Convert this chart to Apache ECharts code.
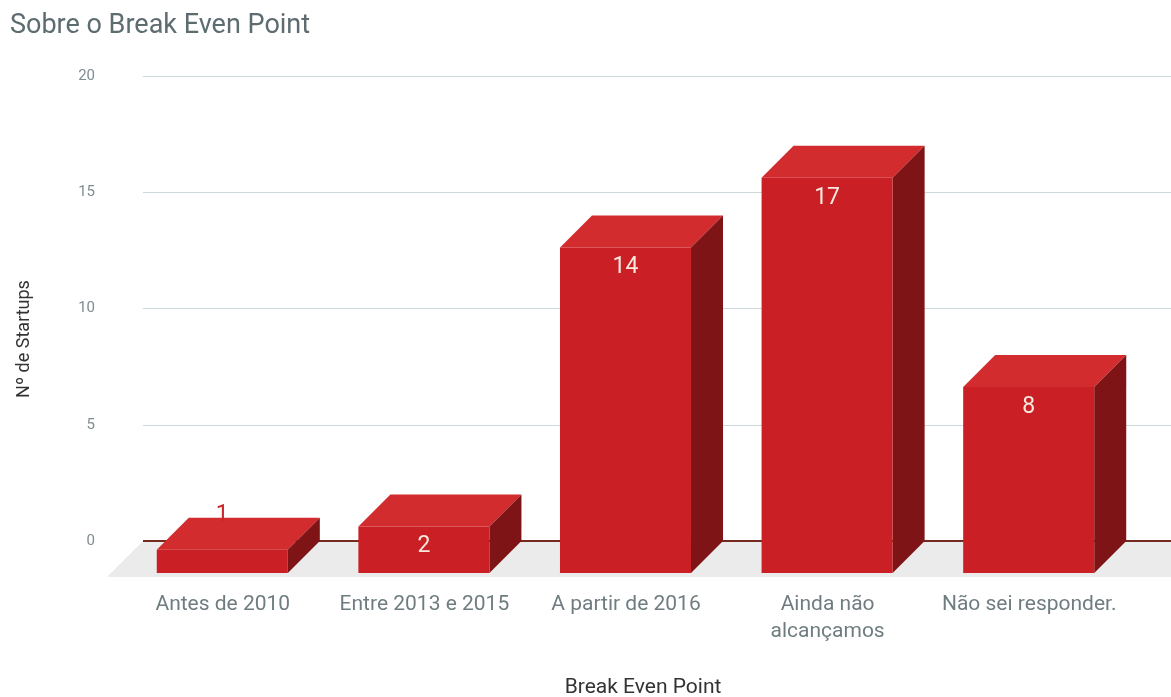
<!DOCTYPE html>
<html>
<head>
<meta charset="utf-8">
<script src="https://cdn.jsdelivr.net/npm/echarts@6/dist/echarts.min.js"></script>
<style>
  html, body { margin: 0; padding: 0; background: #ffffff; }
  #chart { width: 1171px; height: 697px; }
</style>
</head>
<body>
<div id="chart"></div>
<script>
// Survey answers: when did the startup reach its break-even point
const categories = ['Antes de 2010', 'Entre 2013 e 2015', 'A partir de 2016', 'Ainda não\nalcançamos', 'Não sei responder.'];
const startups = [1, 2, 14, 17, 8];

// Value axis range
const yMin = 0;
const yMax = 20;
const yStep = 5;

// Face colours of the extruded bars
const FRONT = '#c91f25';
const TOP = '#d32c2f';
const SIDE = '#7e1416';
const DEPTH = 32;        // extrusion offset of each bar (px, down-left)
const FLOOR_DEPTH = 36;  // depth of the grey floor plane

const chart = echarts.init(document.getElementById('chart'));

// Grey floor under the bars plus the dark zero line along its back edge
function renderFloor(params, api) {
  const cs = params.coordSys;
  const y0 = api.coord([0, 0])[1];
  const x1 = cs.x, x2 = cs.x + cs.width;
  return {
    type: 'group',
    children: [
      { type: 'polygon', shape: { points: [[x1, y0], [x2, y0], [x2, y0 + FLOOR_DEPTH], [x1 - FLOOR_DEPTH, y0 + FLOOR_DEPTH]] },
        style: { fill: '#ebebeb' } },
      { type: 'line', shape: { x1: x1, y1: y0, x2: x2, y2: y0 },
        style: { stroke: '#76291f', lineWidth: 2 } }
    ]
  };
}

// Extruded bar: back face sits on the axis values, front face is offset towards the viewer
function renderBar(params, api) {
  const i = api.value(0);
  const v = api.value(1);
  const base = api.coord([i, 0]);
  const top = api.coord([i, v]);
  const w = api.size([1, 0])[0] * 0.65;
  const d = DEPTH;
  const bl = base[0] - w / 2, br = base[0] + w / 2;
  const yT = top[1], yB = base[1];
  const small = (yB - yT) < 40;
  return {
    type: 'group',
    children: [
      { type: 'polygon', shape: { points: [[bl - d, yT + d], [br - d, yT + d], [br, yT], [bl, yT]] }, style: { fill: TOP } },
      { type: 'polygon', shape: { points: [[br - d, yT + d], [br, yT], [br, yB], [br - d, yB + d]] }, style: { fill: SIDE } },
      { type: 'rect', shape: { x: bl - d, y: yT + d, width: w, height: yB - yT }, style: { fill: FRONT } },
      { type: 'text', x: base[0] - d, y: small ? yT + d - 35 : yT + d + 20,
        style: { text: String(v), fill: small ? '#c8262b' : '#f8e8dd', fontSize: 23, fontFamily: 'Roboto',
                 align: 'center', verticalAlign: 'middle' } }
    ]
  };
}

chart.setOption({
  backgroundColor: '#ffffff',
  animation: false,
  textStyle: { fontFamily: 'Roboto' },
  title: {
    text: 'Sobre o Break Even Point',
    left: 5, top: 8,
    textStyle: { fontFamily: 'Roboto', fontSize: 27, fontWeight: 'normal', color: '#5d6c6f' }
  },
  grid: [
    { left: 143, right: 0, top: 76, bottom: 156, outerBoundsMode: 'none', containLabel: false },
    { left: 153.5, right: 9.5, top: 76, bottom: 156, outerBoundsMode: 'none', containLabel: false }
  ],
  xAxis: [
    { gridIndex: 0, type: 'value', min: 0, max: 1, show: false },
    {
      gridIndex: 1, type: 'category', data: categories,
      axisLine: { show: false }, axisTick: { show: false }, splitLine: { show: false },
      axisLabel: {
        color: '#6f7d80', fontSize: 21, lineHeight: 27, margin: 50,
        padding: [0, 63, 0, 0], interval: 0
      },
      name: 'Break Even Point', nameLocation: 'middle', nameGap: 136,
      nameTextStyle: { color: '#333333', fontSize: 21, padding: [0, 29, 0, 0] }
    }
  ],
  yAxis: [
    {
      gridIndex: 0, type: 'value', min: yMin, max: yMax, interval: yStep,
      axisLine: { show: false }, axisTick: { show: false },
      axisLabel: { color: '#7f8d91', fontSize: 15, margin: 48 },
      splitLine: { lineStyle: { color: '#cdd8dd', width: 1 } },
      name: 'Nº de Startups', nameLocation: 'middle', nameGap: 110,
      nameTextStyle: { color: '#333333', fontSize: 18, padding: [0, 61, 0, 0] }
    },
    { gridIndex: 1, type: 'value', min: yMin, max: yMax, interval: yStep, show: false }
  ],
  series: [
    {
      type: 'custom', xAxisIndex: 0, yAxisIndex: 0, z: 1,
      renderItem: renderFloor, data: [[0, 0]], silent: true
    },
    {
      type: 'custom', xAxisIndex: 1, yAxisIndex: 1, z: 3,
      renderItem: renderBar,
      data: startups.map((v, i) => [i, v])
    }
  ]
});
</script>
</body>
</html>
